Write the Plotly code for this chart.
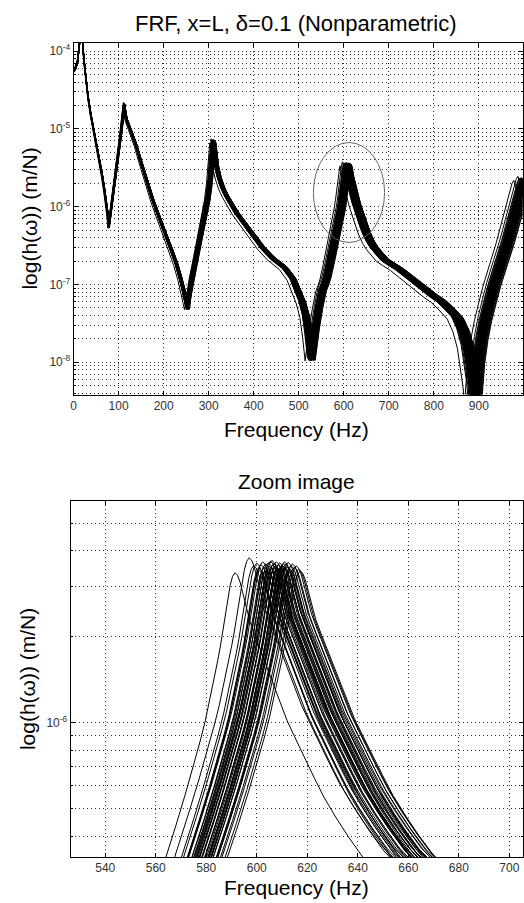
import plotly.graph_objects as go

# ---------------- data ----------------
# nominal FRF curve (frequency in Hz, amplitude in m/N)
nominal_freq = [0, 5, 9, 12, 14.5, 17, 19.5, 22, 25, 28, 32, 38, 46, 52, 57, 63, 68, 72, 75, 78,
                81, 85, 90, 95, 100, 105, 109, 112, 114, 117, 124, 130, 138, 148, 160, 175, 190,
                205, 218, 227, 237, 245, 249, 252, 256, 262, 270, 280, 290, 297, 302, 306, 308,
                309.5, 311, 313, 316, 322, 330, 338, 345, 360, 374, 395, 418, 440, 467, 485, 496,
                506, 514, 520, 526, 530, 535, 542, 550, 556, 560, 567, 572, 577, 581, 585, 588,
                591, 593, 595, 597, 598, 599, 600, 601, 602, 603, 604, 605, 606, 607, 608, 609,
                610, 611, 613, 615, 617, 620, 623, 626, 629, 633, 637, 641, 646, 651, 657, 665,
                675, 688, 702, 720, 740, 754, 775, 795, 813, 830, 849, 862, 872, 880, 885, 888,
                891, 895, 902, 910, 920, 930, 945, 960, 972, 982, 990, 996, 1000, 1004, 1010,
                1020, 1035]
nominal_amp = [5.6e-5, 6.2e-5, 7.5e-5, 1.0e-4, 1.5e-4, 4.0e-4, 1.6e-4, 9.0e-5, 6.0e-5, 4.1e-5,
               2.6e-5, 1.55e-5, 9.0e-6, 6.0e-6, 4.2e-6, 2.6e-6, 1.7e-6, 1.2e-6, 8.5e-7, 5.6e-7,
               7.5e-7, 1.15e-6, 2.0e-6, 3.3e-6, 5.5e-6, 9.0e-6, 1.45e-5, 2.05e-5, 1.7e-5, 1.35e-5,
               1.05e-5, 8.5e-6, 6.3e-6, 4.0e-6, 2.4e-6, 1.25e-6, 7.2e-7, 4.3e-7, 2.7e-7, 1.9e-7,
               1.2e-7, 8.0e-8, 6.0e-8, 5.0e-8, 7.5e-8, 1.2e-7, 2.0e-7, 4.0e-7, 7.6e-7, 1.25e-6,
               2.1e-6, 3.8e-6, 5.6e-6, 7.0e-6, 6.0e-6, 4.6e-6, 3.4e-6, 2.4e-6, 1.75e-6, 1.4e-6,
               1.2e-6, 8.5e-7, 6.6e-7, 4.5e-7, 3.0e-7, 2.2e-7, 1.66e-7, 1.2e-7, 8.3e-8, 6.0e-8,
               4.0e-8, 2.3e-8, 1.1e-8, 1.8e-8, 2.8e-8, 5.0e-8, 8.5e-8, 1.05e-7, 1.25e-7, 1.9e-7,
               2.6e-7, 3.55e-7, 4.6e-7, 6.0e-7, 7.4e-7,
               9.2e-7, 1.08e-6, 1.3e-6, 1.58e-6, 1.75e-6, 1.95e-6, 2.2e-6, 2.5e-6, 2.85e-6,
               3.2e-6, 3.45e-6, 3.55e-6, 3.48e-6, 3.3e-6, 3.05e-6, 2.8e-6,
               2.55e-6, 2.4e-6, 2.15e-6, 1.93e-6, 1.75e-6, 1.48e-6, 1.26e-6, 1.08e-6, 9.5e-7,
               8.0e-7, 6.8e-7, 5.8e-7, 4.9e-7, 4.2e-7, 3.55e-7, 3.0e-7,
               2.55e-7, 2.1e-7, 1.86e-7, 1.6e-7, 1.3e-7, 1.12e-7, 9.0e-8, 7.3e-8, 6.2e-8, 5.0e-8,
               3.8e-8, 2.6e-8, 1.6e-8, 8.5e-9, 5.0e-9, 3.0e-9,
               5.0e-9, 1.0e-8, 2.0e-8, 3.5e-8, 6.0e-8, 1.0e-7, 1.9e-7, 3.6e-7, 6.5e-7, 1.1e-6,
               1.6e-6, 2.1e-6, 2.3e-6, 2.0e-6, 1.4e-6,
               8.0e-7, 4.5e-7]
nominal_peak_freq = 605.0
nominal_peak_amp = 3.55e-6

# per-sample third-mode peak (frequency Hz, amplitude x1e-6)
sample_peak_freq = [591.4, 597.0, 598.8, 600.0, 600.9, 601.6, 602.3, 602.9, 603.5, 604.0, 604.5,
                    605.0, 605.4, 605.9, 606.3, 606.8, 607.2, 607.7, 608.1, 608.6, 609.0, 609.5,
                    610.0, 610.4, 610.9, 611.4, 611.9, 612.4, 612.9, 613.5, 614.1, 614.8, 615.6,
                    616.5, 617.2, 603.2, 606.0, 608.4, 611.0, 604.8, 609.3, 613.0, 601.0, 607.5,
                    610.7]
sample_peak_amp = [3.35, 3.78, 3.55, 3.62, 3.48, 3.58, 3.66, 3.50, 3.60, 3.45, 3.63, 3.52, 3.68,
                   3.47, 3.57, 3.62, 3.50, 3.66, 3.44, 3.58, 3.63, 3.49, 3.56, 3.61, 3.46, 3.59,
                   3.52, 3.64, 3.47, 3.55, 3.60, 3.50, 3.54, 3.45, 3.40, 3.40, 3.70, 3.38, 3.66,
                   3.36, 3.42, 3.36, 3.41, 3.55, 3.50]

# highlight ellipse around the third resonance (frequency and amplitude bounds)
ellipse_freq = [532.5, 690.7]
ellipse_amp = [3.47e-7, 6.67e-6]

x_ticks_top = [0, 100, 200, 300, 400, 500, 600, 700, 800, 900]
y_decades_top = [-8, -7, -6, -5, -4]
x_ticks_zoom = [540, 560, 580, 600, 620, 640, 660, 680, 700]
y_decades_zoom = [-6]

title_top = "FRF, x=L, \u03b4=0.1 (Nonparametric)"
title_zoom = "Zoom image"
x_label = "Frequency (Hz)"
y_label = "log(h(\u03c9)) (m/N)"

# ---------------- figure ----------------
FONT = "Liberation Sans, Arial, Helvetica, sans-serif"
fig = go.Figure()

for pf, pa in zip(sample_peak_freq, sample_peak_amp):
    r = pf / nominal_peak_freq
    a = pa * 1e-6 / nominal_peak_amp
    xs = [f * r for f in nominal_freq]
    ys = [v * a for v in nominal_amp]
    fig.add_trace(go.Scatter(x=xs, y=ys, mode="lines", line=dict(color="black", width=1),
                             xaxis="x", yaxis="y", showlegend=False, hoverinfo="skip"))
    fig.add_trace(go.Scatter(x=xs, y=ys, mode="lines", line=dict(color="black", width=1),
                             xaxis="x2", yaxis="y2", showlegend=False, hoverinfo="skip"))


def log_ticks(decades, lo, hi):
    major_v, major_t, minor_v = [], [], []
    for e in range(lo, hi + 1):
        major_v.append(10.0 ** e)
        major_t.append("10<sup>%d</sup>" % e if e in decades else "")
        for m in range(2, 10):
            minor_v.append(m * 10.0 ** e)
    return major_v, major_t, minor_v


GRID = dict(gridcolor="#303030", gridwidth=1, griddash="1px,3px")
axis_common = dict(showline=True, linecolor="black", linewidth=1, mirror="ticks",
                   ticks="inside", ticklen=4, tickcolor="black", zeroline=False,
                   tickfont=dict(family=FONT, size=12, color="#333333"), showgrid=True, **GRID)

mv, mt, mn = log_ticks(y_decades_top, -9, -4)
mv2, mt2, mn2 = log_ticks(y_decades_zoom, -7, -5)

fig.update_layout(
    width=524, height=903, margin=dict(l=0, r=0, t=0, b=0),
    paper_bgcolor="white", plot_bgcolor="white", showlegend=False,
    xaxis=dict(domain=[71 / 524, 522.5 / 524], anchor="y", range=[0, 997],
               tickvals=x_ticks_top, ticktext=[str(v) for v in x_ticks_top], **axis_common),
    yaxis=dict(domain=[1 - 394 / 903, 1 - 42 / 903], anchor="x", type="log",
               range=[-8.415, -3.896], tickvals=mv, ticktext=mt,
               minor=dict(tickvals=mn, ticks="inside", ticklen=2, tickcolor="black",
                          showgrid=True, **GRID),
               **axis_common),
    xaxis2=dict(domain=[68 / 524, 522.5 / 524], anchor="y2", range=[526.3, 705.2],
                tickvals=x_ticks_zoom, ticktext=[str(v) for v in x_ticks_zoom], **axis_common),
    yaxis2=dict(domain=[1 - 857 / 903, 1 - 501 / 903], anchor="x2", type="log",
                range=[-6.4716, -5.225], tickvals=mv2, ticktext=mt2,
                minor=dict(tickvals=mn2, ticks="inside", ticklen=2, tickcolor="black",
                           showgrid=True, **GRID),
                **axis_common),
)

fig.add_shape(type="circle", xref="x", yref="y",
              x0=ellipse_freq[0], x1=ellipse_freq[1], y0=ellipse_amp[0], y1=ellipse_amp[1],
              line=dict(color="#666666", width=1))


def ann(text, x, y, size, angle=0):
    fig.add_annotation(text=text, x=x / 524, y=1 - y / 903, xref="paper", yref="paper",
                       showarrow=False, textangle=angle, xanchor="center", yanchor="middle",
                       font=dict(family=FONT, size=size, color="black"))


ann(title_top, 295, 23, 22)
ann(x_label, 295, 429, 21)
ann(y_label, 27, 218, 21, -90)
ann(title_zoom, 295, 481, 21)
ann(x_label, 295, 887, 21)
ann(y_label, 24, 679, 21, -90)

fig.write_html("out.html")
